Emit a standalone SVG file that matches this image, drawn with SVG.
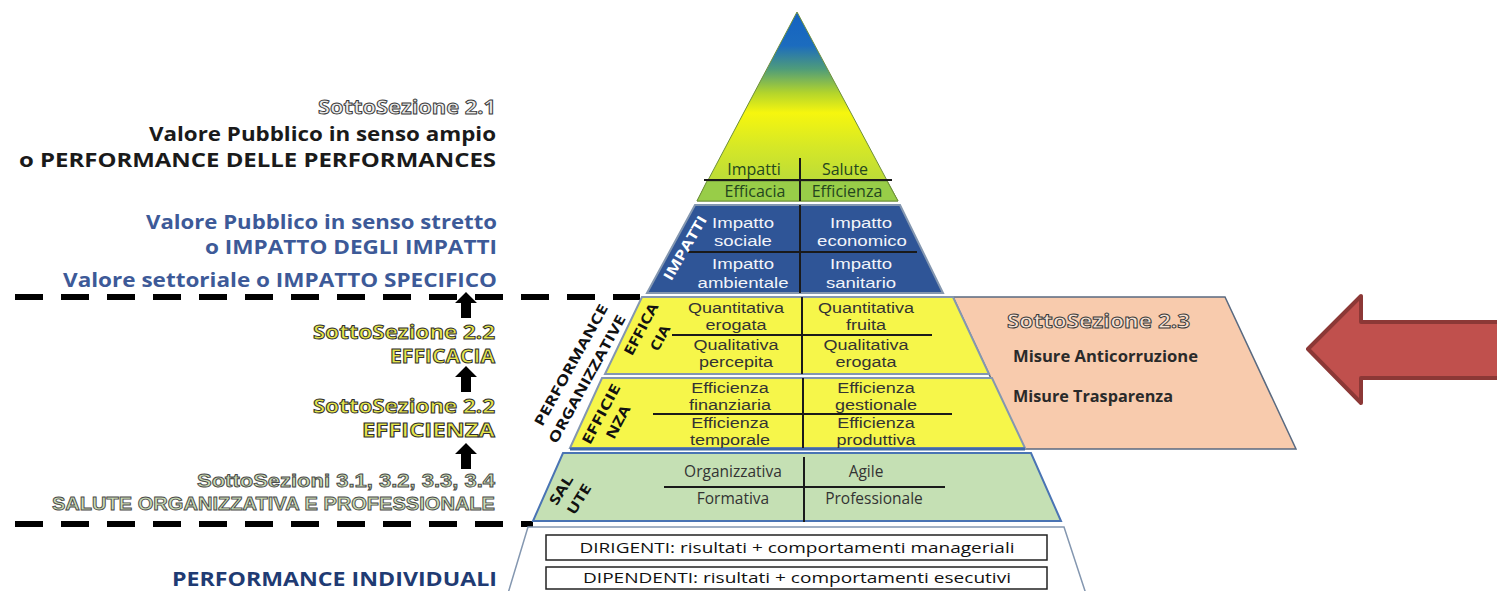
<svg xmlns="http://www.w3.org/2000/svg" width="1497" height="591" viewBox="0 0 1497 591">
<defs>
<linearGradient id="topGrad" gradientUnits="userSpaceOnUse" x1="0" y1="12" x2="0" y2="180">
<stop offset="0" stop-color="#1462c2"/>
<stop offset="0.2" stop-color="#1c6cbe"/>
<stop offset="0.34" stop-color="#4f9c7a"/>
<stop offset="0.48" stop-color="#b2d42c"/>
<stop offset="0.6" stop-color="#f6f60e"/>
<stop offset="0.8" stop-color="#d6e826"/>
<stop offset="1" stop-color="#bcdc38"/>
</linearGradient>
<style>
.lbl{font-family:"Open Sans","Liberation Sans",sans-serif;font-weight:700;font-size:19px;text-anchor:end}
.lblL{font-family:"Liberation Sans",Arial,sans-serif;font-weight:700;font-size:19px;text-anchor:end}
.hollowG{fill:#ececec;stroke:#3a3a3a;stroke-width:0.9}
.hollowY{fill:#e6e64c;stroke:#2e2e2e;stroke-width:0.9}
.hollowS{fill:#cbdcb4;stroke:#4a4a4a;stroke-width:0.9}
.cell{font-family:"Liberation Sans",Arial,sans-serif;font-size:15px;text-anchor:middle;fill:#333}
.cellO{font-family:"Open Sans","Liberation Sans",sans-serif;font-size:15.5px;text-anchor:middle;fill:#333}
.cellW{font-family:"Liberation Sans",Arial,sans-serif;font-size:15.5px;text-anchor:middle;fill:#f2f4fa}
.cellG{font-family:"Open Sans","Liberation Sans",sans-serif;font-size:16px;text-anchor:middle;fill:#24461e}
.rot{font-family:"Open Sans","Liberation Sans",sans-serif;font-weight:700;font-size:14px;text-anchor:middle;fill:#111}
.grid{stroke:#1a1a1a;stroke-width:2;fill:none}
.tier{stroke:#8497b0;stroke-width:2}
.dash{stroke:#000;stroke-width:6;stroke-dasharray:28 18;fill:none}
.box{fill:#fff;stroke:#222;stroke-width:1.5}
.boxT{font-family:"Open Sans","Liberation Sans",sans-serif;font-size:14px;text-anchor:middle;fill:#111}
</style>
</defs>
<rect width="1497" height="591" fill="#fff"/>

<!-- left labels -->
<g id="labels-left">
<text class="lbl hollowG" x="496" y="114" textLength="178" lengthAdjust="spacingAndGlyphs">SottoSezione 2.1</text>
<text class="lbl" x="496" y="141" fill="#1a1a1a" textLength="347" lengthAdjust="spacingAndGlyphs">Valore Pubblico in senso ampio</text>
<text class="lbl" x="496" y="167" fill="#1a1a1a" textLength="477" lengthAdjust="spacingAndGlyphs">o PERFORMANCE DELLE PERFORMANCES</text>
<text class="lbl" x="497" y="229" fill="#3d5a98" textLength="351" lengthAdjust="spacingAndGlyphs">Valore Pubblico in senso stretto</text>
<text class="lbl" x="497" y="254" fill="#3d5a98" textLength="292" lengthAdjust="spacingAndGlyphs">o IMPATTO DEGLI IMPATTI</text>
<text class="lbl" x="497" y="287" fill="#3d5a98" textLength="434" lengthAdjust="spacingAndGlyphs">Valore settoriale o IMPATTO SPECIFICO</text>
<text class="lbl hollowY" x="495" y="339" textLength="182" lengthAdjust="spacingAndGlyphs">SottoSezione 2.2</text>
<text class="lbl hollowY" x="495" y="363" textLength="105" lengthAdjust="spacingAndGlyphs">EFFICACIA</text>
<text class="lbl hollowY" x="495" y="413" textLength="182" lengthAdjust="spacingAndGlyphs">SottoSezione 2.2</text>
<text class="lbl hollowY" x="495" y="437" textLength="133" lengthAdjust="spacingAndGlyphs">EFFICIENZA</text>
<text class="lblL hollowS" x="495" y="487" textLength="298" lengthAdjust="spacingAndGlyphs">SottoSezioni 3.1, 3.2, 3.3, 3.4</text>
<text class="lblL hollowS" x="495" y="510" textLength="443" lengthAdjust="spacingAndGlyphs">SALUTE ORGANIZZATIVA E PROFESSIONALE</text>
<text class="lbl" x="497" y="586" fill="#1f3b73" textLength="325" lengthAdjust="spacingAndGlyphs">PERFORMANCE INDIVIDUALI</text>
</g>

<!-- dashed separators -->
<g id="separators">
<line class="dash" x1="15" y1="297" x2="640" y2="297"/>
<line class="dash" x1="15" y1="524" x2="533" y2="524"/>
</g>

<!-- orange SottoSezione 2.3 -->
<g id="node-anticorruzione">
<polygon points="953,297 1225,297 1296,449 1024,449" fill="#f8cbad" stroke="#5a6a80" stroke-width="1.5"/>
<text class="lbl hollowG" style="text-anchor:start;fill:#f7e2d4" x="1007" y="328" textLength="183" lengthAdjust="spacingAndGlyphs">SottoSezione 2.3</text>
<text x="1013" y="362" font-family="Open Sans, Liberation Sans, sans-serif" font-weight="700" font-size="15.5" fill="#2a2a2a" textLength="185" lengthAdjust="spacingAndGlyphs">Misure Anticorruzione</text>
<text x="1013" y="402" font-family="Open Sans, Liberation Sans, sans-serif" font-weight="700" font-size="15.5" fill="#2a2a2a" textLength="160" lengthAdjust="spacingAndGlyphs">Misure Trasparenza</text>
</g>

<!-- top triangle -->
<g id="node-valore-pubblico">
<polygon points="797,12 898,201 697,201" fill="url(#topGrad)" stroke="#6e8f3c" stroke-width="1"/>
<polygon points="707,181 887,181 898,201 697,201" fill="#98cd48" stroke="#6e8f3c" stroke-width="1"/>
<line class="grid" x1="704" y1="180" x2="892" y2="180"/>
<line class="grid" x1="800" y1="158" x2="800" y2="201"/>
<text class="cellG" x="754" y="175">Impatti</text>
<text class="cellG" x="845" y="175">Salute</text>
<text class="cellG" x="755" y="197">Efficacia</text>
<text class="cellG" x="847" y="197">Efficienza</text>
</g>

<!-- impatti tier -->
<g id="node-impatti">
<polygon class="tier" points="695,205 900,205 943,293 647,293" fill="#2f5597"/>
<line x1="688" y1="252" x2="917" y2="252" stroke="#1a1a1a" stroke-width="2"/>
<line x1="800" y1="205" x2="800" y2="293" stroke="#1a1a1a" stroke-width="2"/>
<text class="cellW" transform="translate(743,228) scale(1.2,1)">Impatto</text>
<text class="cellW" transform="translate(743,246) scale(1.2,1)">sociale</text>
<text class="cellW" transform="translate(743,269) scale(1.2,1)">Impatto</text>
<text class="cellW" transform="translate(743,288) scale(1.2,1)">ambientale</text>
<text class="cellW" transform="translate(861,228) scale(1.2,1)">Impatto</text>
<text class="cellW" transform="translate(862,246) scale(1.2,1)">economico</text>
<text class="cellW" transform="translate(861,269) scale(1.2,1)">Impatto</text>
<text class="cellW" transform="translate(861,288) scale(1.2,1)">sanitario</text>
<text class="rot" style="fill:#fff" transform="translate(685,248) rotate(-60)" y="5" textLength="72" lengthAdjust="spacingAndGlyphs">IMPATTI</text>
</g>

<!-- efficacia tier -->
<g id="node-efficacia">
<polygon class="tier" points="642,297 953,297 989,374 605,374" fill="#f6f64a"/>
<line class="grid" x1="672" y1="335" x2="932" y2="335"/>
<line class="grid" x1="802" y1="297" x2="802" y2="374"/>
<text class="cell" transform="translate(736,313) scale(1.2,1)">Quantitativa</text>
<text class="cell" transform="translate(736,330) scale(1.2,1)">erogata</text>
<text class="cell" transform="translate(736,350) scale(1.2,1)">Qualitativa</text>
<text class="cell" transform="translate(736,367) scale(1.2,1)">percepita</text>
<text class="cell" transform="translate(866,313) scale(1.2,1)">Quantitativa</text>
<text class="cell" transform="translate(866,330) scale(1.2,1)">fruita</text>
<text class="cell" transform="translate(866,350) scale(1.2,1)">Qualitativa</text>
<text class="cell" transform="translate(866,367) scale(1.2,1)">erogata</text>
<text class="rot" transform="translate(641,329) rotate(-62)" y="5" textLength="57" lengthAdjust="spacingAndGlyphs">EFFICA</text>
<text class="rot" transform="translate(660,338) rotate(-62)" y="5" textLength="27" lengthAdjust="spacingAndGlyphs">CIA</text>
</g>

<!-- efficienza tier -->
<g id="node-efficienza">
<polygon class="tier" points="602,378 992,378 1025,448 570,448" fill="#f6f64a"/>
<line x1="570" y1="449" x2="1025" y2="449" stroke="#3f6aa8" stroke-width="3"/>
<line class="grid" x1="653" y1="414" x2="952" y2="414"/>
<line class="grid" x1="803" y1="378" x2="803" y2="448"/>
<text class="cell" transform="translate(730,393) scale(1.2,1)">Efficienza</text>
<text class="cell" transform="translate(730,410) scale(1.2,1)">finanziaria</text>
<text class="cell" transform="translate(730,428) scale(1.2,1)">Efficienza</text>
<text class="cell" transform="translate(730,445) scale(1.2,1)">temporale</text>
<text class="cell" transform="translate(876,393) scale(1.2,1)">Efficienza</text>
<text class="cell" transform="translate(876,410) scale(1.2,1)">gestionale</text>
<text class="cell" transform="translate(876,428) scale(1.2,1)">Efficienza</text>
<text class="cell" transform="translate(876,445) scale(1.2,1)">produttiva</text>
<text class="rot" transform="translate(601,414) rotate(-62)" y="5" textLength="66" lengthAdjust="spacingAndGlyphs">EFFICIE</text>
<text class="rot" transform="translate(618,422) rotate(-62)" y="5" textLength="36" lengthAdjust="spacingAndGlyphs">NZA</text>
</g>

<!-- organisational performance label -->
<g id="label-performance-organizzative">
<text class="rot" transform="translate(571,365) rotate(-61)" y="5" textLength="137" lengthAdjust="spacingAndGlyphs">PERFORMANCE</text>
<text class="rot" transform="translate(587,379) rotate(-61)" y="5" textLength="144" lengthAdjust="spacingAndGlyphs">ORGANIZZATIVE</text>
</g>

<!-- salute tier -->
<g id="node-salute">
<polygon points="563,453 1031,453 1061,521 533,521" fill="#c5e0b4" stroke="#4a74b4" stroke-width="2"/>
<line class="grid" x1="664" y1="487" x2="945" y2="487"/>
<line class="grid" x1="804" y1="457" x2="804" y2="522"/>
<text class="cellO" x="733" y="477">Organizzativa</text>
<text class="cellO" x="866" y="477">Agile</text>
<text class="cellO" x="733" y="504">Formativa</text>
<text class="cellO" x="874" y="504">Professionale</text>
<text class="rot" transform="translate(561,490) rotate(-58)" y="5" textLength="32" lengthAdjust="spacingAndGlyphs">SAL</text>
<text class="rot" transform="translate(579,499) rotate(-58)" y="5" textLength="33" lengthAdjust="spacingAndGlyphs">UTE</text>
</g>

<!-- individual performance tier -->
<g id="node-individuali">
<polygon points="528,527 1064,527 1088,600 506,600" fill="#fff" stroke="#8497b0" stroke-width="1.5"/>
<rect class="box" x="546" y="535" width="501" height="25"/>
<text class="boxT" x="797" y="553" textLength="435" lengthAdjust="spacingAndGlyphs">DIRIGENTI: risultati + comportamenti manageriali</text>
<rect class="box" x="546" y="567" width="501" height="22"/>
<text class="boxT" x="797" y="583" textLength="428" lengthAdjust="spacingAndGlyphs">DIPENDENTI: risultati + comportamenti esecutivi</text>
</g>

<!-- red arrow -->
<g id="node-red-arrow">
<path d="M1308,349 L1361,296 L1361,322 L1502,322 L1502,378 L1361,378 L1361,403 Z" fill="#c0504d" stroke="#8c3836" stroke-width="4" stroke-linejoin="round"/>
</g>

<!-- connectors: upward arrows -->
<g id="connectors" fill="#000">
<path d="M466,292 L477,303 L471,303 L471,318 L461,318 L461,303 L455,303 Z"/>
<path d="M466,366 L477,377 L471,377 L471,392 L461,392 L461,377 L455,377 Z"/>
<path d="M466,443 L477,454 L471,454 L471,469 L461,469 L461,454 L455,454 Z"/>
</g>
</svg>
